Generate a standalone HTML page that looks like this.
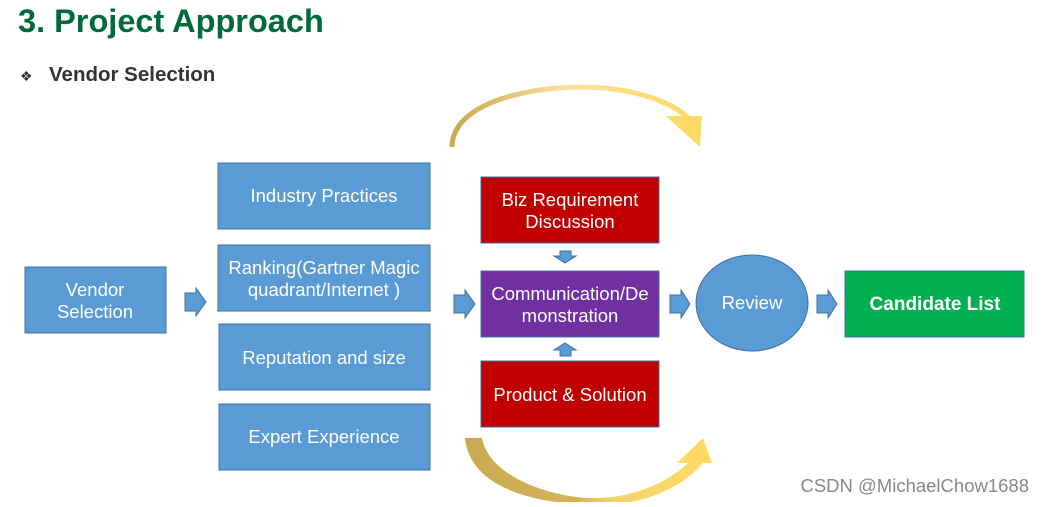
<!DOCTYPE html>
<html><head><meta charset="utf-8"><style>
body{margin:0;background:#fff;width:1045px;height:502px;overflow:hidden}
svg text{font-family:"Liberation Sans",Arial,sans-serif}
</style></head><body>
<svg width="1045" height="502" viewBox="0 0 1045 502" xmlns="http://www.w3.org/2000/svg">
<defs>
<linearGradient id="g1" x1="0" y1="0" x2="1" y2="0"><stop offset="0" stop-color="#c9a84e"/><stop offset="0.5" stop-color="#fbe3a0"/><stop offset="1" stop-color="#ffd966"/></linearGradient>
<linearGradient id="g2" x1="0" y1="0" x2="1" y2="0"><stop offset="0" stop-color="#c9aa52"/><stop offset="0.45" stop-color="#d4b35a"/><stop offset="0.6" stop-color="#f5d46c"/><stop offset="1" stop-color="#ffd966"/></linearGradient>
</defs>
<text x="18" y="32" font-size="32.5" font-weight="bold" fill="#006a3a">3. Project Approach</text>
<text x="20" y="81" font-size="14" fill="#333">❖</text>
<text x="49" y="81" font-size="20.5" font-weight="bold" fill="#333">Vendor Selection</text>

<path d="M452,147 C452,95 560,80 620,90 C650,95 675,105 688,118" fill="none" stroke="url(#g1)" stroke-width="5"/>
<polygon points="666,116 702,116 700,147" fill="#ffd966"/>
<path d="M465,438 L482,438 C490,480 560,500 600,498 C640,496 670,480 688,463 L677,463 L703,438 L712,463 L703,463 C680,490 640,505 600,505 C540,505 470,490 465,438 Z" fill="url(#g2)"/>

<g stroke="#41719c" stroke-width="1">
<rect x="25" y="267" width="141" height="66" fill="#5b9bd5"/>
<rect x="218" y="163" width="212" height="66" fill="#5b9bd5"/>
<rect x="218" y="245" width="212" height="66" fill="#5b9bd5"/>
<rect x="219" y="324" width="211" height="66" fill="#5b9bd5"/>
<rect x="219" y="404" width="211" height="66" fill="#5b9bd5"/>
<rect x="481" y="177" width="178" height="66" fill="#c00000"/>
<rect x="481" y="271" width="178" height="66" fill="#7030a0"/>
<rect x="481" y="361" width="178" height="66" fill="#c00000"/>
<ellipse cx="752" cy="303" rx="56" ry="48" fill="#5b9bd5"/>
<rect x="845" y="271" width="179" height="66" fill="#00b050"/>
<polygon points="185,293 196,293 196,288 206,302 196,316 196,311 185,311" fill="#5b9bd5"/>
<polygon points="454,295 465,295 465,290 475,304 465,318 465,313 454,313" fill="#5b9bd5"/>
<polygon points="670,295 681,295 681,290 690,304 681,318 681,313 670,313" fill="#5b9bd5"/>
<polygon points="817,295 828,295 828,290 837,304 828,318 828,313 817,313" fill="#5b9bd5"/>
<polygon points="560,251 571,251 571,256 576,256 565,263 554,256 560,256" fill="#5b9bd5"/>
<polygon points="560,356 571,356 571,350 576,350 565,343 554,350 560,350" fill="#5b9bd5"/>
</g>

<g fill="#fff" font-size="18.5" text-anchor="middle">
<text x="95" y="296">Vendor</text><text x="95" y="318">Selection</text>
<text x="324" y="202">Industry Practices</text>
<text x="324" y="274">Ranking(Gartner Magic</text><text x="324" y="296">quadrant/Internet )</text>
<text x="324" y="364">Reputation and size</text>
<text x="324" y="443">Expert Experience</text>
<text x="570" y="206">Biz Requirement</text><text x="570" y="228">Discussion</text>
<text x="570" y="300">Communication/De</text><text x="570" y="322">monstration</text>
<text x="570" y="401">Product &amp; Solution</text>
<text x="752" y="309">Review</text>
<text x="935" y="310" font-weight="bold" font-size="19">Candidate List</text>
</g>
<text x="1029" y="492" font-size="18.5" fill="#888" text-anchor="end">CSDN @MichaelChow1688</text>
</svg>
</body></html>
